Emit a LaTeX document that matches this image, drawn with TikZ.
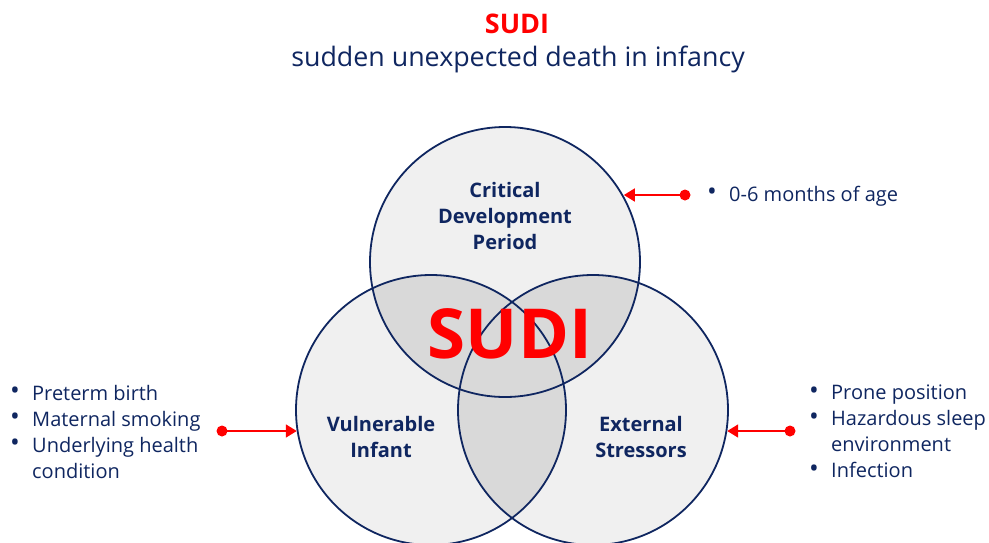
\documentclass[tikz,border=0pt]{standalone}
\usepackage{fontspec}
\setmainfont{Open Sans}
\usetikzlibrary{arrows.meta}
\definecolor{navy}{HTML}{0F2660}
\definecolor{sudired}{HTML}{FF0000}
\definecolor{lightfill}{HTML}{F0F0F0}
\definecolor{overlapfill}{HTML}{D9D9D9}
\tikzset{
  zone/.style = {circle, draw=navy, line width=1.8pt, minimum size=270pt, inner sep=0pt},
  zonetext/.style = {text=navy, font=\fontsize{20}{26}\selectfont\bfseries, align=center},
  bullets/.style = {text=navy, font=\fontsize{20}{26}\selectfont, inner sep=0pt, align=left},
  pointer/.style = {draw=sudired, line width=1.8pt, -{Triangle[length=11pt, width=13pt]}},
  reddot/.style = {circle, fill=sudired, minimum size=11pt, inner sep=0pt}
}
\newcommand{\bul}{\makebox[22pt][l]{\raisebox{0.05ex}{\scalebox{1.3}{\textbullet}}}}
\begin{document}
\begin{tikzpicture}[x=1pt, y=-1pt]
        \useasboundingbox (0,0) rectangle (989,542);
        % title
        \node[text=sudired, font=\fontsize{27}{30}\selectfont\bfseries] (title) at (517, 24) {SUDI};
        \node[text=navy, font=\fontsize{26.8}{30}\selectfont] (subtitle) at (518, 59) {sudden unexpected death in infancy};
        % the three zones
        \fill[lightfill] (505,262) circle (135pt);
        \fill[lightfill] (431,410) circle (135pt);
        \fill[lightfill] (593,410) circle (135pt);
        \begin{scope}
            \clip (505,262) circle (135pt);
            \fill[overlapfill] (431,410) circle (135pt);
            \fill[overlapfill] (593,410) circle (135pt);
        \end{scope}
        \begin{scope}
            \clip (431,410) circle (135pt);
            \fill[overlapfill] (593,410) circle (135pt);
        \end{scope}
        \node[zone] (crit) at (505, 262) {};
        \node[zone] (vuln) at (431, 410) {};
        \node[zone] (ext) at (593, 410) {};
        \node[zonetext] (critlabel) at (505, 216) {Critical\\Development\\Period};
        \node[zonetext] (vulnlabel) at (381, 437) {Vulnerable\\Infant};
        \node[zonetext] (extlabel) at (641, 437) {External\\Stressors};
        \node[text=sudired, font=\fontsize{69}{70}\selectfont\bfseries] (centre) at (510, 334) {SUDI};
        % factors
        \node[bullets, anchor=west] (agelist) at (707, 196) {\bul 0-6 months of age};
        \node[bullets, anchor=north west] (infantlist) at (10, 385)
            {\bul Preterm birth\\ \bul Maternal smoking\\ \bul Underlying health\\ \hspace*{22pt}condition};
        \node[bullets, anchor=north west] (stresslist) at (809, 385)
            {\bul Prone position\\ \bul Hazardous sleep\\ \hspace*{22pt}environment\\ \bul Infection};
        % pointers
        \node[reddot] (agedot) at (685, 195) {};
        \node[reddot] (infantdot) at (222, 431) {};
        \node[reddot] (stressdot) at (790, 431) {};
        \draw[pointer] (agedot.center) -- (agedot.center -| crit.29);
        \draw[pointer] (infantdot.center) -- (infantdot.center -| vuln.189);
        \draw[pointer] (stressdot.center) -- (stressdot.center -| ext.-9);
\end{tikzpicture}
\end{document}
